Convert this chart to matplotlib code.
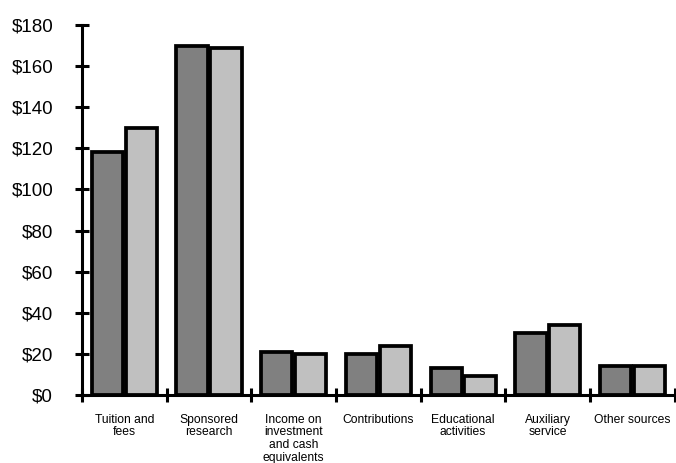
import matplotlib
matplotlib.use("Agg")
import matplotlib.pyplot as plt
import numpy as np

plt.rcParams['font.family'] = ['Liberation Sans', 'DejaVu Sans']

categories = [
    "Tuition and\nfees",
    "Sponsored\nresearch",
    "Income on\ninvestment\nand cash\nequivalents",
    "Contributions",
    "Educational\nactivities",
    "Auxiliary\nservice",
    "Other sources",
]
series_a = [118, 170, 21, 20, 13, 30, 14]
series_b = [130, 169, 20, 24, 9, 34, 14]
y_ticks = [0, 20, 40, 60, 80, 100, 120, 140, 160, 180]
y_tick_labels = [f"${v}" for v in y_ticks]

fig = plt.figure(figsize=(6.76, 4.63), dpi=100)
ax = fig.add_axes([0.1213, 0.147, 0.877, 0.799])

x = np.arange(len(categories)) + 0.5
bw = 0.37
ax.bar(x - 0.2, series_a, width=bw, color="#808080", edgecolor="black", linewidth=2.7, zorder=3)
ax.bar(x + 0.2, series_b, width=bw, color="#C0C0C0", edgecolor="black", linewidth=2.7, zorder=3)

ax.set_xlim(0, len(categories))
ax.set_ylim(0, 180)

ax.set_yticks(y_ticks)
ax.set_yticklabels(y_tick_labels, fontsize=13.5)
ax.tick_params(axis="y", direction="inout", length=10.5, width=2.2, pad=15.5)

ax.set_xticks(np.arange(len(categories) + 1))
ax.set_xticklabels([])
ax.tick_params(axis="x", which="major", direction="inout", length=10.5, width=2.2)
ax.set_xticks(x, minor=True)
ax.set_xticklabels(categories, minor=True, fontsize=8.7, linespacing=1.08)
ax.tick_params(axis="x", which="minor", length=0, pad=13.5)

for side in ("top", "right"):
    ax.spines[side].set_visible(False)
for side in ("left", "bottom"):
    ax.spines[side].set_linewidth(2.2)
    ax.spines[side].set_zorder(4)

fig.savefig("out.png", dpi=100)
